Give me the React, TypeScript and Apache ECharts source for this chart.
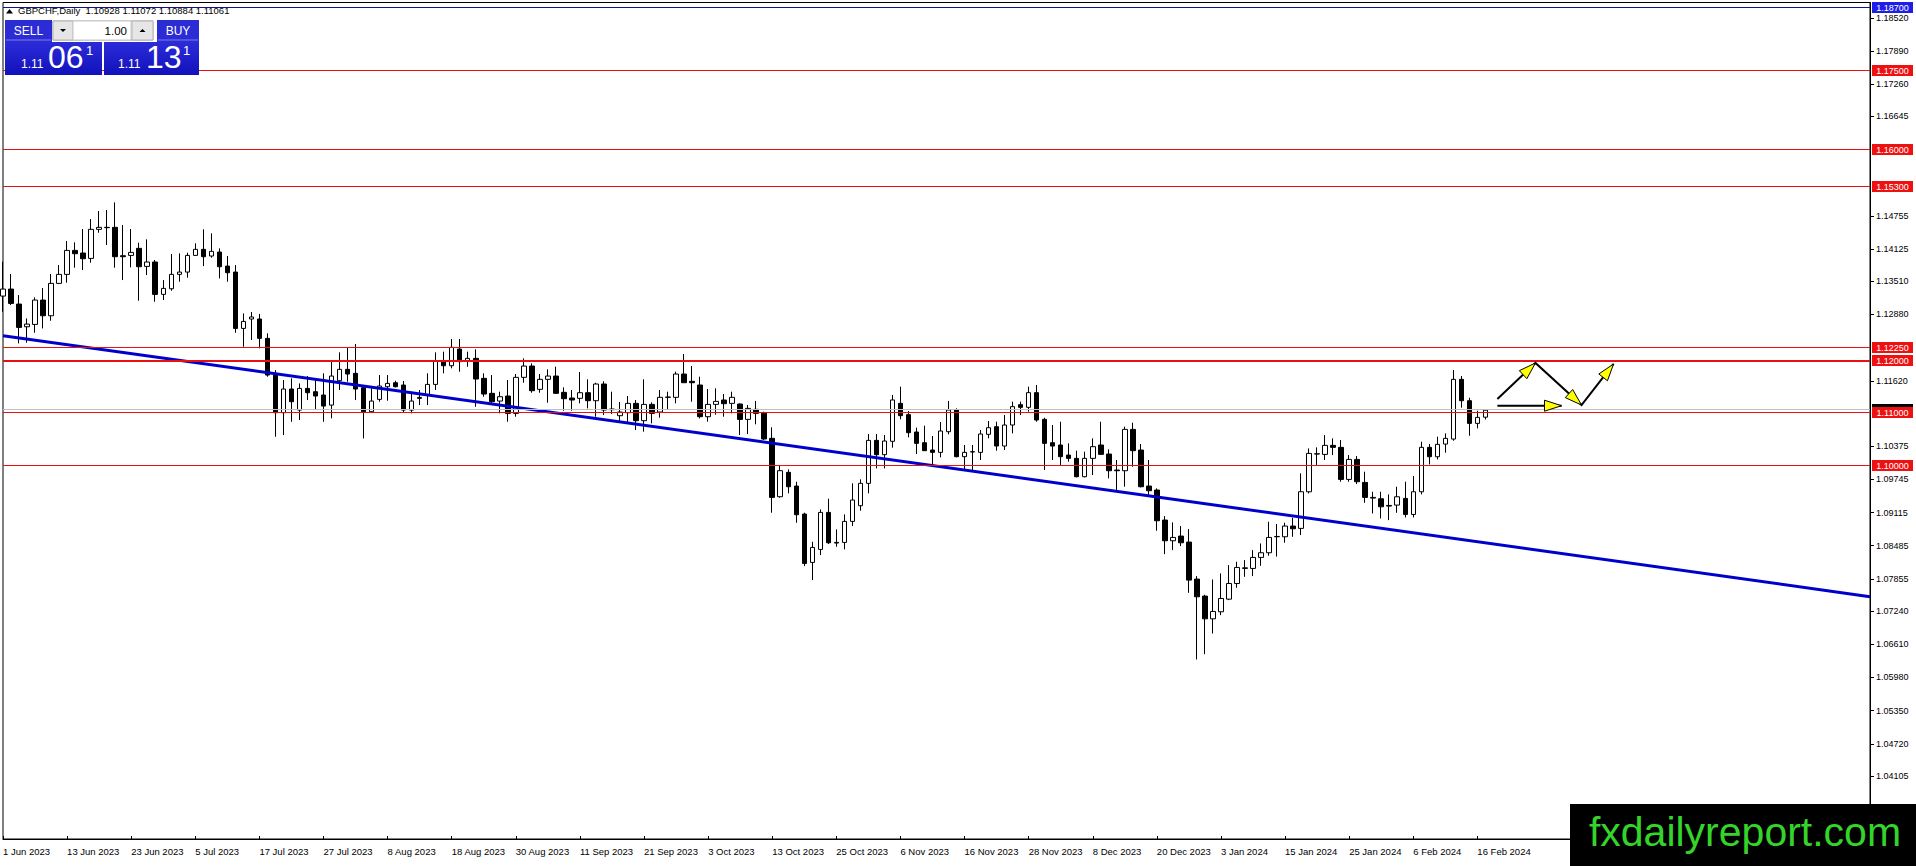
import React, { useEffect, useRef } from "react";
import * as echarts from "echarts";

// ---- daily GBPCHF bars (1 Jun 2023 .. 19 Feb 2024) ----
const opens = [
  1.1323, 1.13363, 1.13078, 1.12647, 1.12691, 1.13154, 1.12856, 1.13471, 1.13642, 1.14098,
  1.14048, 1.13946, 1.14498, 1.14536, 1.14536, 1.13997, 1.14003, 1.14137, 1.13794, 1.13877,
  1.13262, 1.13369, 1.13642, 1.13686, 1.14003, 1.14118, 1.13991, 1.14067, 1.138, 1.13686,
  1.12615, 1.12794, 1.12794, 1.12426, 1.11761, 1.11013, 1.11463, 1.11063, 1.11475, 1.11412,
  1.11349, 1.11158, 1.11621, 1.11837, 1.11761, 1.11488, 1.11032, 1.11266, 1.11507, 1.11583,
  1.11539, 1.11063, 1.11285, 1.11349, 1.11551, 1.12002, 1.11906, 1.12223, 1.12002, 1.12046,
  1.11666, 1.11381, 1.11234, 1.1133, 1.11, 1.11685, 1.119, 1.11457, 1.11647, 1.1171,
  1.114, 1.11292, 1.11286, 1.11393, 1.11241, 1.11558, 1.11083, 1.10956, 1.11013, 1.1119,
  1.10861, 1.11171, 1.11026, 1.11305, 1.11305, 1.11748, 1.11609, 1.11539, 1.10937, 1.11171,
  1.11254, 1.1119, 1.11178, 1.10886, 1.11077, 1.11014, 1.10526, 1.09416, 1.09879, 1.09619,
  1.09086, 1.08167, 1.08414, 1.09118, 1.08547, 1.08547, 1.08947, 1.09245, 1.0967, 1.10487,
  1.10215, 1.10469, 1.11191, 1.10976, 1.10646, 1.10443, 1.10304, 1.10259, 1.10652, 1.11064,
  1.10177, 1.10266, 1.10259, 1.10602, 1.10747, 1.1038, 1.10779, 1.11166, 1.11115, 1.11394,
  1.10887, 1.10443, 1.10399, 1.10208, 1.10145, 1.09796, 1.10145, 1.10399, 1.10227, 1.09923,
  1.0991, 1.10696, 1.10303, 1.09619, 1.09543, 1.08972, 1.08579, 1.08668, 1.08554, 1.0785,
  1.07527, 1.07095, 1.07229, 1.07469, 1.07767, 1.08053, 1.08053, 1.08262, 1.08351, 1.08655,
  1.08655, 1.08858, 1.08814, 1.0951, 1.10227, 1.1022, 1.10392, 1.10354, 1.09745, 1.10125,
  1.09688, 1.09403, 1.09377, 1.0925, 1.09257, 1.09384, 1.09079, 1.0951, 1.10354, 1.10176,
  1.10417, 1.10512, 1.11647, 1.11241, 1.1081, 1.10928,
];
const highs = [
  1.13883, 1.13649, 1.13249, 1.12805, 1.13205, 1.13382, 1.13649, 1.13819, 1.14276, 1.14251,
  1.14504, 1.14694, 1.14847, 1.14866, 1.15011, 1.1458, 1.14504, 1.14244, 1.14308, 1.13915,
  1.13534, 1.14029, 1.14041, 1.14054, 1.14232, 1.14498, 1.14422, 1.14137, 1.13991, 1.13819,
  1.129, 1.12927, 1.12889, 1.12521, 1.11824, 1.11634, 1.11666, 1.1157, 1.1171, 1.11634,
  1.11761, 1.11983, 1.1216, 1.12255, 1.12319, 1.11539, 1.11476, 1.11729, 1.11729, 1.11621,
  1.11615, 1.11412, 1.11444, 1.11761, 1.1216, 1.12173, 1.12414, 1.12414, 1.12173, 1.12217,
  1.11761, 1.11729, 1.11412, 1.11634, 1.11748, 1.12046, 1.11951, 1.11748, 1.11837, 1.11888,
  1.11495, 1.11444, 1.11786, 1.11647, 1.11583, 1.11609, 1.11412, 1.11216, 1.1133, 1.11254,
  1.11647, 1.11209, 1.11444, 1.11412, 1.11793, 1.12129, 1.119, 1.11698, 1.11463, 1.11476,
  1.11368, 1.11412, 1.1119, 1.11159, 1.11236, 1.11033, 1.10735, 1.10018, 1.09936, 1.09701,
  1.09112, 1.0856, 1.09175, 1.09378, 1.08795, 1.0908, 1.0967, 1.09746, 1.10608, 1.10608,
  1.10589, 1.1135, 1.11508, 1.11045, 1.10728, 1.10766, 1.1057, 1.10836, 1.11236, 1.11096,
  1.10399, 1.10399, 1.10684, 1.10855, 1.10843, 1.10969, 1.11223, 1.11223, 1.11508, 1.1154,
  1.10918, 1.10779, 1.10842, 1.1043, 1.10291, 1.10272, 1.10525, 1.10842, 1.10316, 1.10113,
  1.10747, 1.10823, 1.10418, 1.10113, 1.09574, 1.09048, 1.08928, 1.08858, 1.08801, 1.07907,
  1.07552, 1.07843, 1.07958, 1.08116, 1.0818, 1.08211, 1.08401, 1.08528, 1.0894, 1.08896,
  1.08921, 1.09016, 1.0986, 1.10334, 1.10354, 1.10588, 1.10525, 1.10493, 1.10208, 1.10189,
  1.09891, 1.0951, 1.0951, 1.0946, 1.09605, 1.09701, 1.09808, 1.10461, 1.10417, 1.10557,
  1.1062, 1.11824, 1.1171, 1.11298, 1.11051, 1.11072,
];
const lows = [
  1.12932, 1.13059, 1.1233, 1.12342, 1.12532, 1.12615, 1.12761, 1.13458, 1.13484, 1.13769,
  1.13724, 1.13864, 1.14434, 1.142, 1.13769, 1.13534, 1.13775, 1.13141, 1.13629, 1.13122,
  1.13154, 1.13331, 1.13503, 1.13579, 1.13991, 1.138, 1.13959, 1.13566, 1.13503, 1.12532,
  1.12266, 1.12395, 1.12236, 1.11697, 1.10556, 1.10588, 1.10841, 1.10873, 1.11253, 1.11063,
  1.10841, 1.10905, 1.11444, 1.11602, 1.11253, 1.10524, 1.11013, 1.11222, 1.11241, 1.11494,
  1.11013, 1.11, 1.11158, 1.11158, 1.11444, 1.11761, 1.11856, 1.11792, 1.11887, 1.11127,
  1.11317, 1.1119, 1.11, 1.10842, 1.10937, 1.11583, 1.11393, 1.11393, 1.11203, 1.11368,
  1.11051, 1.11051, 1.1119, 1.11095, 1.10937, 1.10969, 1.10988, 1.10842, 1.10823, 1.10683,
  1.10652, 1.1081, 1.10918, 1.11064, 1.1119, 1.11583, 1.11222, 1.10905, 1.10842, 1.10975,
  1.10937, 1.11, 1.10588, 1.10607, 1.10792, 1.10494, 1.09112, 1.09397, 1.09479, 1.08921,
  1.08097, 1.07831, 1.08307, 1.08516, 1.08465, 1.08414, 1.08858, 1.0915, 1.09479, 1.09955,
  1.09955, 1.10348, 1.10887, 1.10545, 1.10228, 1.10291, 1.09987, 1.10164, 1.10602, 1.10164,
  1.09923, 1.09892, 1.10113, 1.10526, 1.10291, 1.10304, 1.1062, 1.10969, 1.11033, 1.10842,
  1.09924, 1.10113, 1.10018, 1.10082, 1.09784, 1.09784, 1.09828, 1.10208, 1.09765, 1.09511,
  1.09606, 1.09986, 1.09593, 1.09429, 1.08769, 1.08325, 1.08401, 1.08478, 1.0759, 1.06322,
  1.06423, 1.06816, 1.07165, 1.0745, 1.07685, 1.07894, 1.07907, 1.08103, 1.08294, 1.08278,
  1.08541, 1.08655, 1.08687, 1.09479, 1.10017, 1.10113, 1.10208, 1.09701, 1.09701, 1.09656,
  1.09301, 1.09098, 1.09003, 1.08971, 1.09111, 1.09022, 1.09022, 1.0946, 1.1003, 1.10125,
  1.10252, 1.1048, 1.11108, 1.10575, 1.10715, 1.10884,
];
const closes = [
  1.13363, 1.1309, 1.12634, 1.12697, 1.13154, 1.12856, 1.13471, 1.13642, 1.14098, 1.14035,
  1.1394, 1.14498, 1.14536, 1.1453, 1.13978, 1.13978, 1.1406, 1.13788, 1.13877, 1.13262,
  1.13376, 1.13642, 1.13686, 1.14003, 1.14118, 1.13978, 1.1408, 1.13788, 1.13674, 1.12615,
  1.12748, 1.12832, 1.12426, 1.11729, 1.11013, 1.11463, 1.11222, 1.11475, 1.11393, 1.1133,
  1.11139, 1.1171, 1.11837, 1.11748, 1.11463, 1.11032, 1.11234, 1.1152, 1.1157, 1.11507,
  1.11063, 1.11234, 1.11304, 1.11551, 1.12002, 1.11906, 1.12255, 1.11983, 1.12046, 1.11653,
  1.11368, 1.11222, 1.11317, 1.11, 1.11685, 1.119, 1.11431, 1.11647, 1.1171, 1.11381,
  1.11279, 1.11254, 1.11393, 1.11241, 1.11558, 1.11064, 1.1107, 1.11026, 1.1119, 1.10861,
  1.11171, 1.11, 1.11305, 1.11311, 1.11748, 1.11583, 1.11583, 1.10937, 1.11171, 1.11228,
  1.11184, 1.11305, 1.10886, 1.11095, 1.11001, 1.10513, 1.09403, 1.09911, 1.09606, 1.09074,
  1.08148, 1.08452, 1.09118, 1.08541, 1.08535, 1.08947, 1.09353, 1.0967, 1.10487, 1.10215,
  1.10475, 1.11255, 1.10957, 1.10633, 1.1043, 1.10291, 1.10259, 1.10665, 1.11064, 1.10177,
  1.10259, 1.10272, 1.10608, 1.10728, 1.1038, 1.10779, 1.11128, 1.11115, 1.11394, 1.10874,
  1.1043, 1.10379, 1.10177, 1.10145, 1.09796, 1.10145, 1.10367, 1.10221, 1.0991, 1.0991,
  1.10696, 1.10291, 1.09606, 1.0953, 1.08959, 1.08579, 1.08642, 1.08541, 1.07831, 1.07514,
  1.07095, 1.07235, 1.07482, 1.07767, 1.08072, 1.08065, 1.08262, 1.08351, 1.08642, 1.08661,
  1.08858, 1.08807, 1.09511, 1.10239, 1.10233, 1.10392, 1.10354, 1.09745, 1.10125, 1.09701,
  1.09403, 1.0939, 1.09225, 1.09238, 1.09415, 1.09079, 1.0951, 1.10354, 1.10176, 1.10411,
  1.10525, 1.11647, 1.11241, 1.1081, 1.10924, 1.11061,
];

// date labels, one every 8 bars starting at bar 0
const xTickLabels = [
  "1 Jun 2023", "13 Jun 2023", "23 Jun 2023", "5 Jul 2023", "17 Jul 2023", "27 Jul 2023",
  "8 Aug 2023", "18 Aug 2023", "30 Aug 2023", "11 Sep 2023", "21 Sep 2023", "3 Oct 2023",
  "13 Oct 2023", "25 Oct 2023", "6 Nov 2023", "16 Nov 2023", "28 Nov 2023", "8 Dec 2023",
  "20 Dec 2023", "3 Jan 2024", "15 Jan 2024", "25 Jan 2024", "6 Feb 2024", "16 Feb 2024",
];
const BARS_PER_LABEL = 8;
const TOTAL_SLOTS = 234; // bars plus the empty right shift area

// price scale
const Y_MIN = 1.0291;
const Y_MAX = 1.1881;
const yTicks = [
  1.1852, 1.1789, 1.1726, 1.16645, 1.14755, 1.14125, 1.1351, 1.1288, 1.1162, 1.10375,
  1.09745, 1.09115, 1.08485, 1.07855, 1.0724, 1.0661, 1.0598, 1.0535, 1.0472, 1.04105,
];

// horizontal levels
const redLevels = [1.175, 1.16, 1.153, 1.1225, 1.12, 1.11, 1.1];
const redLevelWidths = [1, 1, 1, 1, 2, 1, 1];
const topLevel = 1.187;
const bidPrice = 1.11061;

// trend line (bar index, price)
const trendBars = [0, 233];
const trendPrices = [1.12477, 1.07516];

// projected path arrows (bar index, price)
const pathBars = [186.5, 191.25, 197, 201];
const pathPrices = [1.11274, 1.11958, 1.11159, 1.11939];
const flatBars = [186.5, 194.5];
const flatPrices = [1.11146, 1.11146];

const headerText = "GBPCHF,Daily  1.10928 1.11072 1.10884 1.11061";
const sellBig = ["1.11", "06", "1"];
const buyBig = ["1.11", "13", "1"];
const lotText = "1.00";
const watermark = "fxdailyreport.com";

const FONT = "'Liberation Sans', Arial, sans-serif";
const RED = "#e81010";

function txt(text: string, x: number, y: number, size: number, fill: string, align = "left", weight = "normal", z = 50) {
  return {
    type: "text",
    z,
    silent: true,
    style: {
      text,
      x,
      y,
      fill,
      font: `${weight} ${size}px ${FONT}`,
      textAlign: align,
      textVerticalAlign: "middle",
      align,
      verticalAlign: "middle",
    },
  };
}

function rect(x: number, y: number, w: number, h: number, fill: any, stroke?: string, z = 50) {
  return {
    type: "rect",
    z,
    silent: true,
    shape: { x, y, width: w, height: h },
    style: { fill, stroke: stroke || "none", lineWidth: 1 },
  };
}

function hline(x1: number, x2: number, y: number, color: string, width: number, z = 6) {
  const yy = width % 2 === 1 ? Math.round(y) - 0.5 : Math.round(y);
  return {
    type: "line",
    z,
    silent: true,
    shape: { x1, y1: yy, x2, y2: yy },
    style: { stroke: color, lineWidth: width },
  };
}

function arrowHead(x1: number, y1: number, x2: number, y2: number) {
  const dx = x2 - x1;
  const dy = y2 - y1;
  const len = Math.sqrt(dx * dx + dy * dy) || 1;
  const ux = dx / len;
  const uy = dy / len;
  const L = 17;
  const W = 5.5;
  const bx = x2 - ux * L;
  const by = y2 - uy * L;
  return {
    type: "polygon",
    z: 21,
    silent: true,
    shape: {
      points: [
        [x2, y2],
        [bx - uy * W, by + ux * W],
        [bx + uy * W, by - ux * W],
      ],
    },
    style: { fill: "#ffff00", stroke: "#000", lineWidth: 1 },
  };
}

export default function App() {
  const ref = useRef<HTMLDivElement>(null);

  useEffect(() => {
    const el = ref.current;
    if (!el) return;
    const chart = echarts.init(el, undefined, { renderer: "svg" });

    const categories = Array.from({ length: TOTAL_SLOTS }, (_, i) => String(i));
    const candles = opens.map((o, i) => [o, closes[i], lows[i], highs[i]]);
    const showTick = (i: number) => i % BARS_PER_LABEL === 0 && i / BARS_PER_LABEL < xTickLabels.length;

    chart.setOption({
      animation: false,
      backgroundColor: "#ffffff",
      grid: {
        left: 3,
        right: 46,
        top: 2.5,
        bottom: 27,
        show: true,
        borderColor: "#000",
        borderWidth: 1,
        backgroundColor: "transparent",
      },
      xAxis: {
        type: "category",
        data: categories,
        boundaryGap: false,
        axisLine: { show: true, lineStyle: { color: "#000", width: 1 } },
        axisTick: {
          show: true,
          inside: true,
          length: 3,
          interval: (i: number) => showTick(i),
          lineStyle: { color: "#000" },
        },
        axisLabel: {
          interval: (i: number) => showTick(i),
          formatter: (_v: string, i: number) => xTickLabels[i / BARS_PER_LABEL] ?? "",
          align: "left",
          margin: 7,
          color: "#000",
          fontSize: 9.5,
          fontFamily: FONT,
        },
        splitLine: { show: false },
      },
      yAxis: {
        type: "value",
        position: "right",
        min: Y_MIN,
        max: Y_MAX,
        scale: true,
        axisLine: { show: true, lineStyle: { color: "#000", width: 1 } },
        axisTick: { show: true, length: 4, customValues: yTicks, lineStyle: { color: "#000" } },
        axisLabel: {
          customValues: yTicks,
          formatter: (v: number) => v.toFixed(5),
          margin: 6,
          color: "#000",
          fontSize: 9,
          fontFamily: FONT,
        },
        splitLine: { show: false },
      },
      series: [
        {
          type: "candlestick",
          data: candles,
          barWidth: 5,
          clip: false,
          silent: true,
          itemStyle: {
            color: "#ffffff",
            color0: "#000000",
            borderColor: "#000000",
            borderColor0: "#000000",
            borderWidth: 1,
          },
        },
        {
          type: "line",
          data: trendBars.map((b, i) => [b, trendPrices[i]]),
          symbol: "none",
          silent: true,
          z: 4,
          lineStyle: { color: "#0000cd", width: 3 },
        },
      ],
    });

    // annotation graphics positioned through the chart's own scales
    const x0 = chart.convertToPixel({ xAxisIndex: 0 }, 0) as number;
    const x1 = chart.convertToPixel({ xAxisIndex: 0 }, 1) as number;
    const toX = (bar: number) => x0 + (x1 - x0) * bar;
    const toY = (p: number) => chart.convertToPixel({ yAxisIndex: 0 }, p) as number;
    const leftEdge = toX(0);
    const rightEdge = toX(TOTAL_SLOTS - 1);

    const g: any[] = [];

    const tag = (value: number, bg: string, z: number) => {
      const y = toY(value);
      g.push(rect(rightEdge + 2, Math.round(y) - 6, 41, 11, bg, undefined, z));
      g.push(txt(value.toFixed(5), rightEdge + 22.5, Math.round(y) - 0.5, 9, "#fff", "center", "normal", z + 1));
    };

    // level lines
    g.push(hline(leftEdge, rightEdge, toY(topLevel), "#12128f", 1));
    g.push(hline(leftEdge, rightEdge, toY(bidPrice), "#c0c0c0", 1, 5));
    redLevels.forEach((v, i) => g.push(hline(leftEdge, rightEdge, toY(v), RED, redLevelWidths[i])));

    // price tags on the right axis
    const yb = toY(bidPrice);
    g.push(rect(rightEdge + 2, Math.round(yb) - 6, 41, 11, "#000", undefined, 30));
    tag(topLevel, "#1e1ee6", 32);
    redLevels.forEach((v) => tag(v, "#ee1111", 32));

    // projected path
    const pts = pathBars.map((b, i) => [toX(b), toY(pathPrices[i])]);
    g.push({
      type: "polyline",
      z: 20,
      silent: true,
      shape: { points: pts },
      style: { stroke: "#000", lineWidth: 2, fill: "none" },
    });
    for (let i = 1; i < pts.length; i++) {
      g.push(arrowHead(pts[i - 1][0], pts[i - 1][1], pts[i][0], pts[i][1]));
    }
    const fpts = flatBars.map((b, i) => [toX(b), toY(flatPrices[i])]);
    g.push({
      type: "polyline",
      z: 20,
      silent: true,
      shape: { points: fpts },
      style: { stroke: "#000", lineWidth: 2, fill: "none" },
    });
    g.push(arrowHead(fpts[0][0], fpts[0][1], fpts[1][0], fpts[1][1]));

    // header
    g.push({
      type: "polygon",
      z: 50,
      silent: true,
      shape: { points: [[6, 13.5], [9.5, 9], [13, 13.5]] },
      style: { fill: "#000" },
    });
    g.push(txt(headerText, 18, 10.8, 9.5, "#000"));

    // one-click trading panel
    const btnBlue = "#2c2cd4";
    const boxGrad = new echarts.graphic.LinearGradient(0, 0, 0, 1, [
      { offset: 0, color: "#2b2bd8" },
      { offset: 1, color: "#1212bc" },
    ]);
    g.push(rect(5, 20, 47, 22, btnBlue));
    g.push(rect(6, 39.5, 45, 1, "#7a7aec"));
    g.push(txt("SELL", 28.5, 30.5, 12, "#fff", "center"));
    g.push(rect(53, 21, 100, 19, "#f4f4f4", "#a8a8a8"));
    g.push(rect(53, 21, 20, 19, "#e6e6e6", "#b4b4b4"));
    g.push({
      type: "polygon",
      z: 51,
      silent: true,
      shape: { points: [[60, 29], [66, 29], [63, 32]] },
      style: { fill: "#000" },
    });
    g.push(rect(73, 21, 58, 19, "#ffffff", "#c8c8c8"));
    g.push(txt(lotText, 127, 30.5, 11.5, "#000", "right"));
    g.push(rect(132, 21, 21, 19, "#e6e6e6", "#b4b4b4"));
    g.push({
      type: "polygon",
      z: 51,
      silent: true,
      shape: { points: [[139.5, 32], [145.5, 32], [142.5, 29]] },
      style: { fill: "#000" },
    });
    g.push(rect(157, 20, 42, 22, btnBlue));
    g.push(rect(158, 39.5, 40, 1, "#7a7aec"));
    g.push(txt("BUY", 178, 30.5, 12, "#fff", "center"));

    g.push(rect(5, 42, 97, 33, boxGrad));
    g.push(txt(sellBig[0], 21, 64, 12, "#fff"));
    g.push(txt(sellBig[1], 48, 57, 32, "#fff"));
    g.push(txt(sellBig[2], 86, 50, 13, "#fff"));
    g.push(rect(104, 42, 95, 33, boxGrad));
    g.push(txt(buyBig[0], 118, 64, 12, "#fff"));
    g.push(txt(buyBig[1], 146, 57, 32, "#fff"));
    g.push(txt(buyBig[2], 183, 50, 13, "#fff"));

    // watermark
    g.push(rect(1570, 804, 346, 62, "#000000", undefined, 100));
    g.push(txt(watermark, 1745, 831.5, 41, "#35d42a", "center", "normal", 101));

    chart.setOption({ graphic: { elements: g } });

    return () => {
      chart.dispose();
    };
  }, []);

  return (
    <div
      ref={ref}
      style={{
        position: "fixed",
        left: 0,
        top: 0,
        width: 1916,
        height: 866,
        background: "#fff",
      }}
    />
  );
}
